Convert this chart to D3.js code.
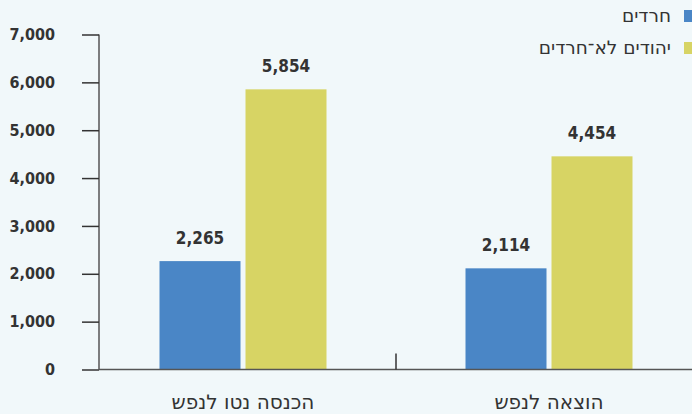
<!DOCTYPE html>
<html>
<head>
<meta charset="utf-8">
<script src="https://cdn.jsdelivr.net/npm/d3@7"></script>
<style>
  body { margin: 0; background: #f1f8fa; }
  svg { display: block; font-family: "DejaVu Sans", sans-serif; }
  .num { font-family: "DejaVu Sans Condensed", "DejaVu Sans", sans-serif; font-stretch: condensed; }
</style>
</head>
<body>
<div id="chart"></div>
<script>
const categories = ["הכנסה נטו לנפש", "הוצאה לנפש"];
const seriesNames = ["חרדים", "יהודים לא־חרדים"];
const haredim = [2265, 2114];
const nonHaredim = [5854, 4454];
const yTicks = [0, 1000, 2000, 3000, 4000, 5000, 6000, 7000];

const blueColor = "#4a86c6";
const yellowColor = "#d7d464";

const width = 692, height = 414;

const svg = d3.select("#chart")
    .append("svg")
    .attr("width", width)
    .attr("height", height);

const x = d3.scaleBand()
    .domain(categories)
    .range([90, 702])
    .padding(0);

const y = d3.scaleLinear()
    .domain([0, 7000])
    .range([369.5, 34.5]);

const barW = 81, gap = 5;

// y axis
const yAxis = svg.append("g")
    .attr("transform", "translate(99,0)")
    .call(d3.axisLeft(y).tickValues(yTicks).tickFormat(d3.format(",")).tickSize(17).tickPadding(27));
yAxis.select(".domain").attr("stroke", "#555").attr("stroke-width", 1.5).attr("d", "M0," + y(7000) + "V" + y(0));
yAxis.selectAll(".tick line").attr("stroke", "#333").attr("stroke-width", 1.5);
yAxis.selectAll(".tick text")
    .attr("class", "num")
    .attr("fill", "#333")
    .style("font-size", "16px")
    .style("font-weight", "bold");

// bars
const barData = [];
categories.forEach((c, i) => {
    const cx = x(c) + x.bandwidth() / 2;
    barData.push({ cat: c, value: haredim[i], x0: cx - gap / 2 - barW, color: blueColor });
    barData.push({ cat: c, value: nonHaredim[i], x0: cx + gap / 2, color: yellowColor });
});

svg.selectAll(".bar")
    .data(barData)
    .enter().append("rect")
    .attr("class", "bar")
    .attr("x", d => d.x0)
    .attr("width", barW)
    .attr("y", d => y(d.value))
    .attr("height", d => y(0) - y(d.value))
    .attr("fill", d => d.color);

svg.selectAll(".val")
    .data(barData)
    .enter().append("text")
    .attr("class", "val num")
    .attr("x", d => d.x0 + barW / 2)
    .attr("y", d => y(d.value) - 17)
    .attr("text-anchor", "middle")
    .attr("fill", "#333")
    .style("font-size", "17px")
    .style("font-weight", "bold")
    .text(d => d3.format(",")(d.value));

// baseline
svg.append("line")
    .attr("x1", 99).attr("x2", width)
    .attr("y1", y(0)).attr("y2", y(0))
    .attr("stroke", "#555").attr("stroke-width", 1.5);

// divider tick between groups
svg.append("line")
    .attr("x1", x(categories[1])).attr("x2", x(categories[1]))
    .attr("y1", y(0) - 16).attr("y2", y(0))
    .attr("stroke", "#333").attr("stroke-width", 1.5);

// category labels
svg.selectAll(".cat")
    .data(categories)
    .enter().append("text")
    .attr("class", "cat")
    .attr("x", d => x(d) + x.bandwidth() / 2)
    .attr("y", 409)
    .attr("text-anchor", "middle")
    .attr("fill", "#333")
    .style("font-size", "20px")
    .text(d => d);

// legend
const legend = svg.append("g").attr("class", "legend");
const legendItems = legend.selectAll(".legend-item")
    .data(seriesNames)
    .enter().append("g")
    .attr("class", "legend-item")
    .attr("transform", (d, i) => "translate(0," + (i * 32) + ")");

legendItems.append("rect")
    .attr("x", 684)
    .attr("y", 10)
    .attr("width", 10)
    .attr("height", 12)
    .attr("fill", (d, i) => i === 0 ? blueColor : yellowColor);

legendItems.append("text")
    .attr("x", 671)
    .attr("y", 22)
    .attr("text-anchor", "end")
    .attr("fill", "#333")
    .style("font-size", "18.5px")
    .text(d => d);
</script>
</body>
</html>
